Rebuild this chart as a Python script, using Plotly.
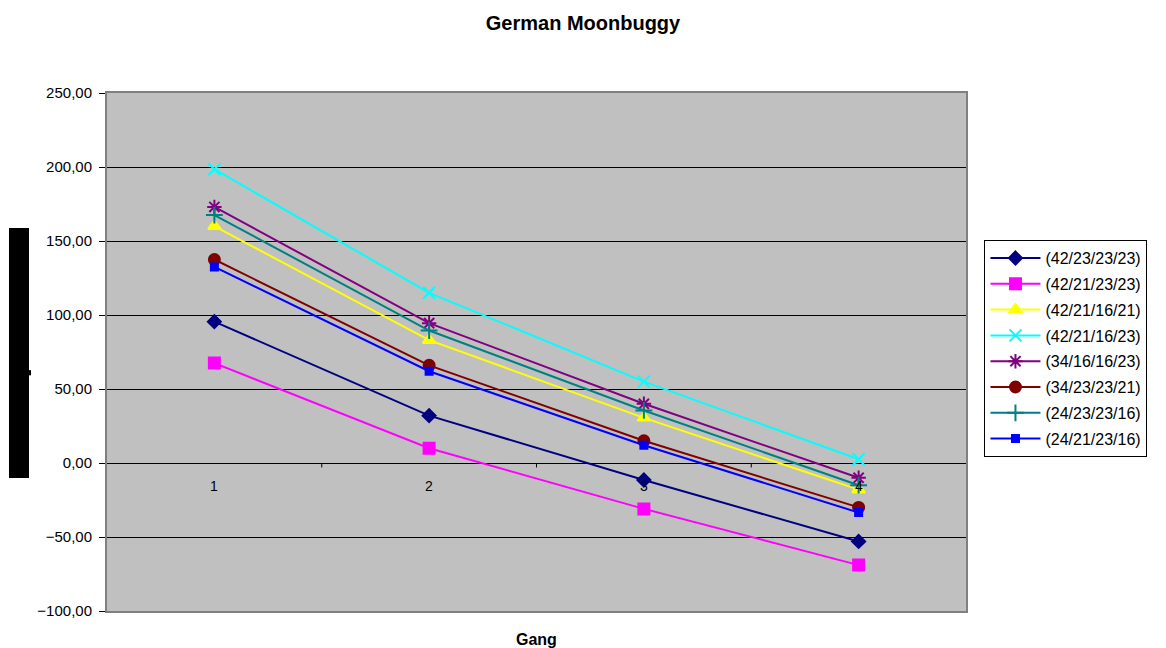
import plotly.graph_objects as go

# Gear categories and measured values per configuration
gang = ["1", "2", "3", "4"]

s_42_23_23_23 = [95.5, 32.0, -11.5, -53.0]
s_42_21_23_23 = [67.5, 10.0, -31.0, -69.0]
s_42_21_16_21 = [160.0, 83.0, 30.5, -18.0]
s_42_21_16_23 = [198.5, 115.0, 55.0, 2.5]
s_34_16_16_23 = [173.0, 94.5, 40.0, -10.0]
s_34_23_23_21 = [137.5, 66.0, 15.0, -30.0]
s_24_23_23_16 = [167.5, 89.5, 35.5, -15.0]
s_24_21_23_16 = [132.5, 62.0, 12.0, -33.5]

y_ticks = [250, 200, 150, 100, 50, 0, -50, -100]

series = [
    ("(42/23/23/23)", s_42_23_23_23, "#000080", "diamond", 10),
    ("(42/21/23/23)", s_42_21_23_23, "#FF00FF", "square", 11),
    ("(42/21/16/21)", s_42_21_16_21, "#FFFF00", "triangle-up", 11),
    ("(42/21/16/23)", s_42_21_16_23, "#00FFFF", "x-thin-open", 12),
    ("(34/16/16/23)", s_34_16_16_23, "#800080", "asterisk-open", 12),
    ("(34/23/23/21)", s_34_23_23_21, "#800000", "circle", 11),
    ("(24/23/23/16)", s_24_23_23_16, "#008080", "cross-thin-open", 12),
    ("(24/21/23/16)", s_24_21_23_16, "#0000FF", "square", 7),
]

FONT = "Liberation Sans, Arial"

fig = go.Figure()
for i, (name, vals, color, symbol, size) in enumerate(series):
    fig.add_trace(go.Scatter(
        x=gang, y=vals, name=name, mode="lines+markers",
        legendgroup=f"g{i}",
        line=dict(color=color, width=2),
        marker=dict(symbol=symbol, size=size, color=color,
                    line=dict(color=color, width=2)),
    ))

# Category labels sit on the zero line, as in the original axis crossing
annotations = [
    dict(x=k, y=0, xref="x", yref="y", text=g, showarrow=False,
         yanchor="top", yshift=-13,
         font=dict(family=FONT, size=14, color="#000"))
    for k, g in enumerate(gang)
]
annotations.append(dict(
    x=0.5, y=0, xref="paper", yref="paper", text="<b>Gang</b>",
    showarrow=False, yanchor="top", yshift=-18,
    font=dict(family=FONT, size=16, color="#000")))

shapes = [
    # tick marks between categories on the zero line
    dict(type="line", xref="x", yref="y", x0=k + 0.5, x1=k + 0.5,
         y0=0, y1=-3, line=dict(color="#000", width=1))
    for k in range(len(gang) - 1)
]
# black block left of the value axis
shapes.append(dict(type="rect", xref="paper", yref="paper",
                   x0=-0.1141, x1=-0.0908, y0=0.2568, y1=0.7394,
                   fillcolor="#000", line=dict(width=0)))
shapes.append(dict(type="rect", xref="paper", yref="paper",
                   x0=-0.0910, x1=-0.0885, y0=0.455, y1=0.465,
                   fillcolor="#000", line=dict(width=0)))

fig.update_layout(
    width=1166, height=648,
    margin=dict(l=107, r=200, t=93, b=37),
    paper_bgcolor="white",
    plot_bgcolor="#C0C0C0",
    separators=",.",
    font=dict(family=FONT, size=13, color="#000"),
    title=dict(text="<b>German Moonbuggy</b>", x=0.5, xref="container",
               xanchor="center", y=0.965, yanchor="middle",
               font=dict(family=FONT, size=20, color="#000")),
    xaxis=dict(type="category", range=[-0.5, 3.5], showticklabels=False,
               ticks="", showgrid=False, zeroline=False,
               showline=True, mirror=True, linecolor="#808080", linewidth=2),
    yaxis=dict(range=[-100, 250], tickvals=y_ticks, tickformat=".2f",
               ticks="outside", ticklen=6, tickcolor="#000",
               ticklabelstandoff=4,
               showgrid=True, gridcolor="#000", gridwidth=1,
               zeroline=True, zerolinecolor="#000", zerolinewidth=1,
               showline=True, mirror=True, linecolor="#808080", linewidth=2,
               tickfont=dict(family=FONT, size=15)),
    legend=dict(x=1.0215, xanchor="left", y=0.716, yanchor="top",
                bgcolor="white", bordercolor="#000", borderwidth=1,
                tracegroupgap=2, font=dict(family=FONT, size=16),
                itemwidth=50),
    annotations=annotations,
    shapes=shapes,
)

fig.write_html("out.html")
